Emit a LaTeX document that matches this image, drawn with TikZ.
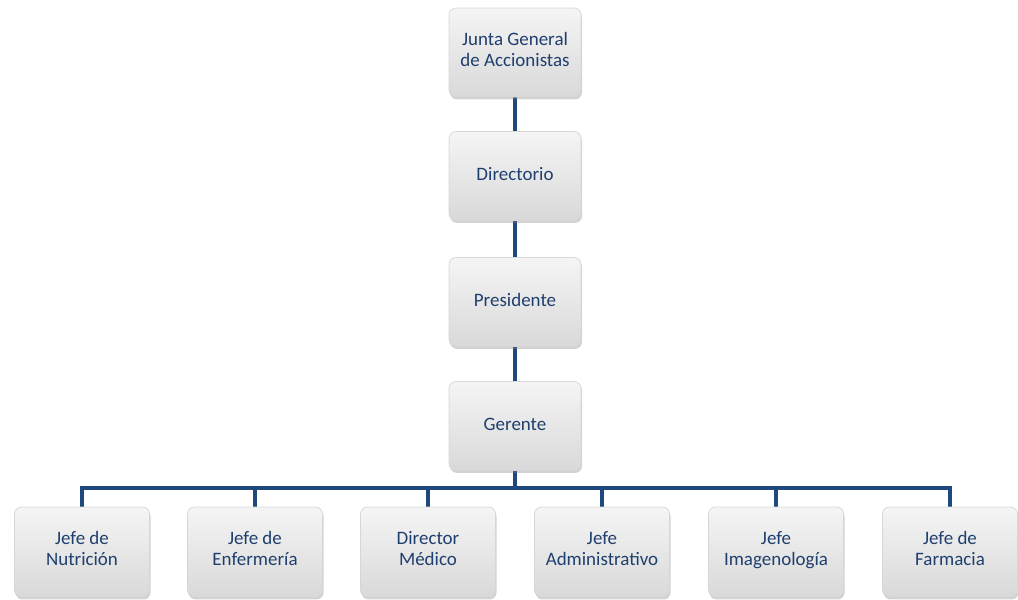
\documentclass[tikz,border=0pt]{standalone}
\usepackage{fontspec}
\setmainfont{Carlito}
\usepackage{tikz}
\usetikzlibrary{shadows}
\definecolor{navy}{HTML}{1F3F6E}
\definecolor{linkblue}{HTML}{1F497D}
\definecolor{boxedge}{HTML}{D6D6D6}
\tikzset{
  every node/.style={font=\fontsize{10.8}{12}\selectfont,text=navy},
  post/.style={draw=boxedge,line width=0.4pt,rounded corners=4pt,top color=gray!8,middle color=white,bottom color=gray!30,
    drop shadow={opacity=0.35,shadow xshift=0.6pt,shadow yshift=-1.4pt},
    align=center,minimum width=26.4mm,minimum height=17.8mm,inner sep=2pt,
    execute at begin node=\strut,execute at end node=\strut},
  postlow/.style={post,minimum width=27mm,minimum height=18mm},
  link/.style={draw=linkblue,line width=2.8pt}
}
\begin{document}
\begin{tikzpicture}[x=1cm,y=1cm]
  \useasboundingbox (0,0) rectangle (20.36,-11.98);
  \coordinate (bus) at (10.30,-9.76);

  % connectors first, boxes on top
  \path (10.30,-1.05) coordinate (c1) (10.30,-3.52) coordinate (c2)
        (10.30,-6.04) coordinate (c3) (10.30,-8.52) coordinate (c4);
  \draw[link] (c1) -- (c4) -- (bus);
  \foreach \xpos in {1.64,5.10,8.56,12.04,15.52,19.00}
    \draw[link] (bus) -| (\xpos,-10.5);

  \node[post] (junta) at (c1) {Junta General\\de Accionistas};
  \node[post] (directorio) at (c2) {Directorio};
  \node[post] (presidente) at (c3) {Presidente};
  \node[post] (gerente) at (c4) {Gerente};

  \node[postlow] (nutricion) at (1.64,-11.04) {Jefe de\\Nutrición};
  \node[postlow] (enfermeria) at (5.10,-11.04) {Jefe de\\Enfermería};
  \node[postlow] (medico) at (8.56,-11.04) {Director\\Médico};
  \node[postlow] (admin) at (12.04,-11.04) {Jefe\\Administrativo};
  \node[postlow] (imagen) at (15.52,-11.04) {Jefe\\Imagenología};
  \node[postlow] (farmacia) at (19.00,-11.04) {Jefe de\\Farmacia};
\end{tikzpicture}
\end{document}
